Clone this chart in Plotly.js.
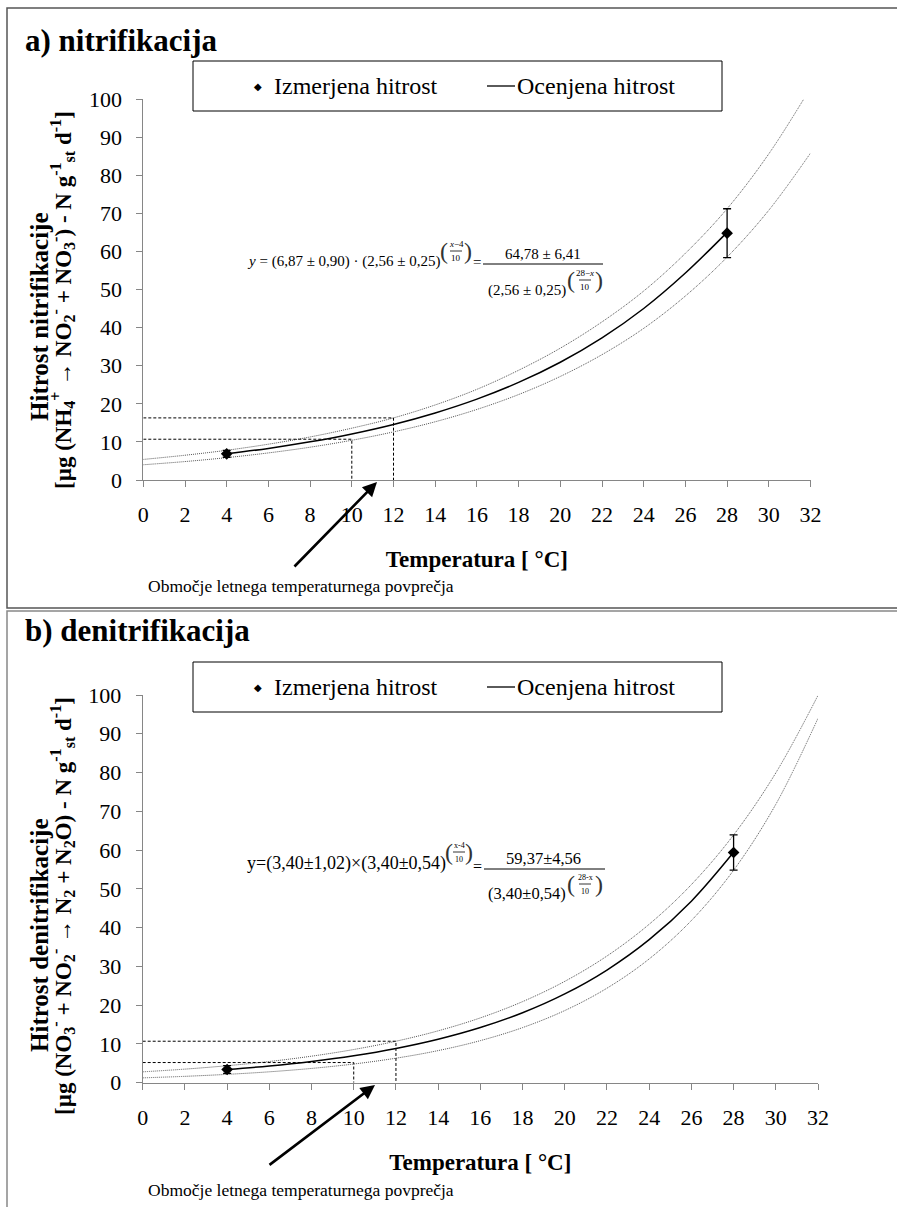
<!DOCTYPE html>
<html><head><meta charset="utf-8">
<script src="https://cdn.plot.ly/plotly-3.0.1.min.js"></script>
<style>
body{margin:0;background:#fff;}
#chart{position:absolute;left:0;top:0;width:897px;height:1207px;}
</style>
</head><body>
<div id="chart"></div>
<script>
// ---------- DATA ----------
const tempTicks = [0,2,4,6,8,10,12,14,16,18,20,22,24,26,28,30,32];
const rateTicks = [0,10,20,30,40,50,60,70,80,90,100];
const bandX = [0,2,4,6,8,10,12,14,16,18,20,22,24,26,28,30,32];
const fitX  = [4,6,8,10,12,14,16,18,20,22,24,26,28];
const measX = [4,28];

// a) nitrifikacija
const nitMeasY   = [6.87, 64.78];
const nitMeasErr = [0.90, 6.41];
const nitFitY    = [6.87,8.29,10.01,12.08,14.57,17.59,21.22,25.61,30.91,37.31,45.02,54.33,65.0];
const nitUpper   = [5.4,6.5,7.8,9.4,11.3,13.6,16.3,19.7,23.8,28.8,34.6,41.5,49.6,59.5,71.2,85.6,102.9];
const nitLower   = [4.0,4.84,5.87,7.11,8.61,10.43,12.63,15.29,18.52,22.43,27.18,32.9,39.8,48.3,58.5,70.8,85.8];
const nitRefX    = [10,12];
const nitRefY    = [10.7,16.3];

// b) denitrifikacija
const denMeasY   = [3.40, 59.37];
const denMeasErr = [1.02, 4.56];
const denFitY    = [3.40,4.31,5.48,6.95,8.82,11.20,14.22,18.04,22.90,29.06,36.89,46.82,59.42];
const denUpper   = [2.80,3.50,4.38,5.47,6.84,8.56,10.70,13.38,16.72,20.91,26.14,32.68,40.87,51.10,63.90,79.9,99.9];
const denLower   = [1.25,1.64,2.15,2.81,3.68,4.82,6.32,8.28,10.85,14.21,18.61,24.38,31.93,41.83,54.8,71.8,94.0];
const denRefX    = [10,12];
const denRefY    = [5.2,10.7];

// text
const legendMeasured = 'Izmerjena hitrost';
const legendFitted   = 'Ocenjena hitrost';
const xTitle = '<b>Temperatura [ °C]</b>';
const noteText = 'Območje letnega temperaturnega povprečja';
const nitYTitle1 = '<b>Hitrost nitrifikacije</b>';
const nitYTitle2 = '<b>[µg (NH<sub>4</sub><sup>+</sup> → NO<sub>2</sub><sup>-</sup> + NO<sub>3</sub><sup>-</sup>) - N g<sup>-1</sup><sub>st</sub> d<sup>-1</sup>]</b>';
const denYTitle1 = '<b>Hitrost denitrifikacije</b>';
const denYTitle2 = '<b>[µg (NO<sub>3</sub><sup>-</sup> + NO<sub>2</sub><sup>-</sup> → N<sub>2</sub> + N<sub>2</sub>O) - N g<sup>-1</sup><sub>st</sub> d<sup>-1</sup>]</b>';

// ---------- LAYOUT HELPERS ----------
const W = 897, H = 1207;
const px = v => v / W;
const py = v => 1 - v / H;
const SERIF = 'Liberation Serif';

function panelTraces(xa, ya, fitY, up, lo, mY, mErr, refX, refY) {
  const t = [];
  t.push({x: bandX, y: up, xaxis: xa, yaxis: ya, mode: 'lines', type: 'scatter',
          line: {color: '#555', width: 1, dash: '1px,1px', shape: 'spline'}, hoverinfo: 'skip', showlegend: false});
  t.push({x: bandX, y: lo, xaxis: xa, yaxis: ya, mode: 'lines', type: 'scatter',
          line: {color: '#555', width: 1, dash: '1px,1px', shape: 'spline'}, hoverinfo: 'skip', showlegend: false});
  refX.forEach((rx, i) => {
    t.push({x: [0, rx, rx], y: [refY[i], refY[i], 0], xaxis: xa, yaxis: ya, mode: 'lines', type: 'scatter',
            line: {color: '#000', width: 1, dash: '3px,2px'}, hoverinfo: 'skip', showlegend: false});
  });
  t.push({x: fitX, y: fitY, xaxis: xa, yaxis: ya, mode: 'lines', type: 'scatter', name: legendFitted,
          line: {color: '#000', width: 1.5, shape: 'spline'}, showlegend: false});
  t.push({x: measX, y: mY, xaxis: xa, yaxis: ya, mode: 'markers', type: 'scatter', name: legendMeasured,
          marker: {symbol: 'diamond', color: '#000', size: 9},
          error_y: {type: 'data', array: mErr, visible: true, color: '#000', thickness: 1.3, width: 4},
          showlegend: false});
  return t;
}

const traces = [].concat(
  panelTraces('x', 'y', nitFitY, nitUpper, nitLower, nitMeasY, nitMeasErr, nitRefX, nitRefY),
  panelTraces('x2', 'y2', denFitY, denUpper, denLower, denMeasY, denMeasErr, denRefX, denRefY)
);

function xAxis(d0, d1, anchor) {
  return {domain: [px(d0), px(d1)], anchor: anchor, range: [0, 32], tickvals: tempTicks,
    showline: true, linecolor: '#868686', linewidth: 1, ticks: 'outside', ticklen: 6, tickcolor: '#868686',
    showgrid: false, zeroline: false, fixedrange: true, ticklabelstandoff: 9,
    tickfont: {family: SERIF, size: 22, color: '#000'},
    title: {text: xTitle, font: {family: SERIF, size: 23, color: '#000'}, standoff: 24}};
}
function yAxis(top, bottom, anchor) {
  return {domain: [py(bottom), py(top)], anchor: anchor, range: [0, 100], tickvals: rateTicks,
    showline: true, linecolor: '#868686', linewidth: 1, ticks: 'outside', ticklen: 6, tickcolor: '#868686',
    showgrid: false, zeroline: false, fixedrange: true, ticklabelstandoff: 10,
    tickfont: {family: SERIF, size: 22, color: '#000'}};
}

function ann(text, x, y, size, opts) {
  return Object.assign({text: text, x: px(x), y: py(y), xref: 'paper', yref: 'paper', showarrow: false,
    xanchor: 'center', yanchor: 'middle', font: {family: SERIF, size: size, color: '#000'}}, opts || {});
}
function line(x0, y0, x1, y1, color, width, dash) {
  return {type: 'line', xref: 'paper', yref: 'paper', x0: px(x0), y0: py(y0), x1: px(x1), y1: py(y1),
          line: {color: color, width: width, dash: dash || 'solid'}};
}

const annotations = [];
const shapes = [];

// frames
shapes.push({type: 'rect', xref: 'paper', yref: 'paper', x0: px(7), y0: py(608), x1: px(905), y1: py(8),
             line: {color: '#555', width: 1.5}});
shapes.push({type: 'rect', xref: 'paper', yref: 'paper', x0: px(7), y0: py(1215), x1: px(905), y1: py(611),
             line: {color: '#888', width: 1.5}});

// panel titles
annotations.push(ann('<b>a) nitrifikacija</b>', 23, 40, 31, {xanchor: 'left'}));
annotations.push(ann('<b>b) denitrifikacija</b>', 23, 630, 31, {xanchor: 'left'}));

// y-axis titles (two lines each)
annotations.push(ann(nitYTitle1, 39, 317, 25, {textangle: -90}));
annotations.push(ann(nitYTitle2, 62, 300, 23, {textangle: -90}));
annotations.push(ann(denYTitle1, 39, 935, 25, {textangle: -90}));
annotations.push(ann(denYTitle2, 62, 906, 23, {textangle: -90}));

// legends
function legend(top) {
  const bottom = top + 50, cy = top + 25;
  shapes.push({type: 'rect', xref: 'paper', yref: 'paper', x0: px(193), y0: py(bottom), x1: px(722), y1: py(top),
               line: {color: '#000', width: 1}, fillcolor: '#fff'});
  annotations.push(ann('◆', 258, cy, 10, {font: {family: 'DejaVu Sans', size: 10, color: '#000'}}));
  annotations.push(ann(legendMeasured, 272, cy, 24, {xanchor: 'left'}));
  shapes.push(line(487, cy, 515, cy, '#000', 1.3));
  annotations.push(ann(legendFitted, 515, cy, 24, {xanchor: 'left'}));
}
legend(61);
legend(662);

// equations
function expFrac(cx, cy, num, size, half) {
  annotations.push(ann('(', cx - half, cy, 24, {font: {family: SERIF, size: 24, color: '#333'}}));
  annotations.push(ann(')', cx + half, cy, 24, {font: {family: SERIF, size: 24, color: '#333'}}));
  annotations.push(ann(num, cx, cy - 7, size));
  annotations.push(ann('10', cx, cy + 7, size));
  shapes.push(line(cx - 6, cy, cx + 6, cy, '#000', 0.8));
}
// top equation
annotations.push(ann('<i>y</i> = (6,87 ± 0,90) · (2,56 ± 0,25)', 245, 261, 15, {xanchor: 'left'}));
expFrac(456, 251, '<i>x</i>−4', 9, 12);
annotations.push(ann('=', 477, 262, 15));
annotations.push(ann('64,78 ± 6,41', 543, 254, 15));
shapes.push(line(483, 264, 603, 264, '#000', 1));
annotations.push(ann('(2,56 ± 0,25)', 527, 290, 15));
expFrac(585, 280, '28−<i>x</i>', 9, 14);

// bottom equation
annotations.push(ann('y=(3,40±1,02)×(3,40±0,54)', 245, 863, 18, {xanchor: 'left'}));
expFrac(459, 852, 'x-4', 8, 10);
annotations.push(ann('=', 477, 866, 16));
annotations.push(ann('59,37±4,56', 543, 858, 16.5));
shapes.push(line(484, 869, 605, 869, '#000', 1));
annotations.push(ann('(3,40±0,54)', 527, 893, 16.5));
expFrac(585, 884, '28-x', 8, 14);

// arrows and notes
function arrow(hx, hy, tx, ty) {
  annotations.push({x: px(hx), y: py(hy), xref: 'paper', yref: 'paper', text: '', showarrow: true,
    ax: tx - hx, ay: ty - hy, arrowhead: 2, arrowsize: 1.1, arrowwidth: 2.6, arrowcolor: '#000', standoff: 0});
}
arrow(377, 482, 293, 568);
annotations.push(ann(noteText, 146, 586, 17.5, {xanchor: 'left'}));
arrow(375, 1085, 268, 1166);
annotations.push(ann(noteText, 146, 1190, 17.5, {xanchor: 'left'}));

const layout = {
  width: W, height: H, margin: {l: 0, r: 0, t: 0, b: 0},
  paper_bgcolor: '#fff', plot_bgcolor: 'rgba(0,0,0,0)',
  showlegend: false,
  xaxis: xAxis(143.3, 810.5, 'y'),
  yaxis: yAxis(99, 480, 'x'),
  xaxis2: xAxis(142.7, 818, 'y2'),
  yaxis2: yAxis(695, 1082.7, 'x2'),
  annotations: annotations,
  shapes: shapes
};

Plotly.newPlot('chart', traces, layout, {staticPlot: true, displayModeBar: false});
</script>
</body></html>
